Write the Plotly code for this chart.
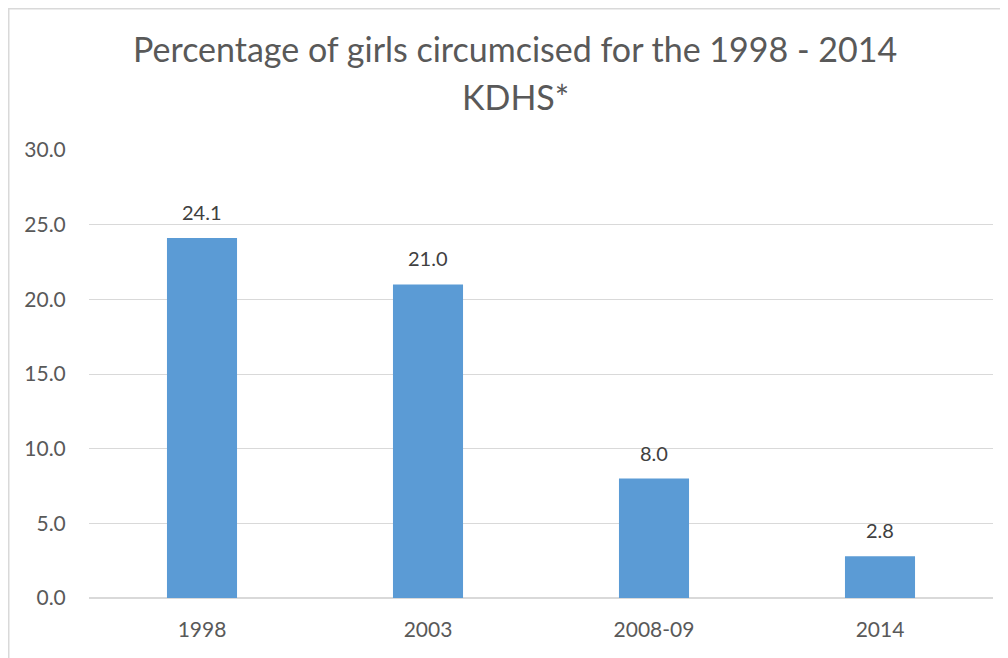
import plotly.graph_objects as go

categories = ["1998", "2003", "2008-09", "2014"]
values = [24.1, 21.0, 8.0, 2.8]
y_ticks = [0, 5, 10, 15, 20, 25, 30]
y_tick_labels = ["0.0", "5.0", "10.0", "15.0", "20.0", "25.0", "30.0"]
title_lines = ["Percentage of girls circumcised for the 1998 - 2014", "KDHS*"]

FONT = "Lato"

# page body has an 8px margin; work in screen pixels and convert
OFF = 8
W, H = 1000, 650
L, R, T, B = 81, 15, 142, 60
pw, ph = W - L - R, H - T - B

def px_x(p):
    return (p - OFF - L) / pw

def px_y(p):
    return (H - B - (p - OFF)) / ph

fig = go.Figure()
fig.add_trace(go.Bar(
    x=categories, y=values,
    marker=dict(color="#5B9BD5", line=dict(width=0)),
    width=0.31,
    hoverinfo="skip",
))

for i, v in enumerate(values):
    fig.add_annotation(x=i, y=v, xref="x", yref="y", text=f"{v:.1f}", showarrow=False,
                       yanchor="bottom", yshift=12,
                       font=dict(family=FONT, size=20, color="#404040"))

for line, cy in zip(title_lines, [49, 96]):
    fig.add_annotation(xref="paper", yref="paper", x=px_x(515), y=px_y(cy),
                       xanchor="center", yanchor="middle", showarrow=False,
                       text=line, font=dict(family=FONT, size=34, color="#595959"))

fig.add_shape(type="rect", xref="paper", yref="paper",
              x0=px_x(8.5), x1=px_x(1020), y0=px_y(670), y1=px_y(8.5),
              line=dict(color="#D9D9D9", width=2), fillcolor="rgba(0,0,0,0)",
              layer="below")

fig.update_layout(
    width=W, height=H,
    margin=dict(l=L, r=R, t=T, b=B, autoexpand=False),
    paper_bgcolor="white", plot_bgcolor="white",
    showlegend=False,
    xaxis=dict(type="category", range=[-0.5, 3.5],
               showgrid=False, showline=False, zeroline=False,
               automargin=False,
               tickfont=dict(family=FONT, size=21, color="#595959"),
               ticks="outside", ticklen=13, tickcolor="rgba(0,0,0,0)"),
    yaxis=dict(range=[0, 30], tickvals=y_ticks, ticktext=y_tick_labels,
               automargin=False,
               showgrid=True, gridcolor="#D9D9D9", gridwidth=1,
               zeroline=True, zerolinecolor="#D9D9D9", zerolinewidth=2,
               showline=False,
               tickfont=dict(family=FONT, size=21, color="#595959"),
               ticks="outside", ticklen=18, tickcolor="rgba(0,0,0,0)"),
)

fig.write_html("out.html")
